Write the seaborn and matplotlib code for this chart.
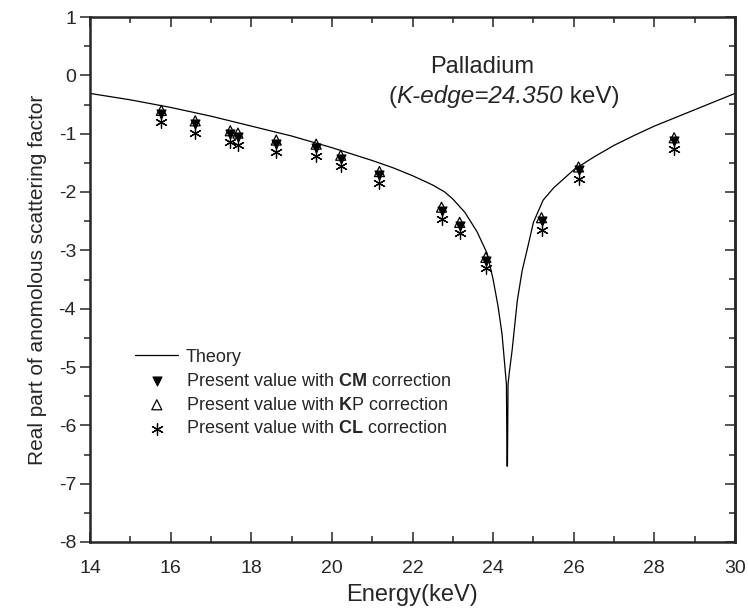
import numpy as np
import pandas as pd
import matplotlib
matplotlib.use("Agg")
import matplotlib.pyplot as plt
import seaborn as sns
from matplotlib.ticker import MultipleLocator

# ---------------- data ----------------
theory_energy = [14.0, 15.0, 16.0, 17.0, 18.0, 19.0, 20.0, 21.0, 21.5, 22.0,
                 22.5, 22.8, 23.0, 23.3, 23.6, 23.85, 24.0, 24.12, 24.22, 24.28,
                 24.33, 24.345, 24.355, 24.37, 24.40, 24.47, 24.6, 24.72, 24.84,
                 25.0, 25.24, 25.5, 26.0, 26.5, 27.0, 27.5, 28.0, 28.5, 29.0,
                 29.5, 30.0]
theory_value = [-0.31, -0.42, -0.55, -0.70, -0.87, -1.04, -1.24, -1.46, -1.58, -1.72,
                -1.88, -2.00, -2.12, -2.35, -2.68, -3.05, -3.50, -3.95, -4.43, -4.90,
                -5.30, -6.70, -6.70, -5.30, -5.10, -4.72, -3.86, -3.35, -3.00,
                -2.52, -2.14, -1.93, -1.62, -1.40, -1.20, -1.03, -0.87, -0.73, -0.59,
                -0.45, -0.31]

energy = [15.77, 16.61, 17.48, 17.67, 18.62, 19.61, 20.22, 21.18,
          22.72, 23.17, 23.82, 25.20, 26.12, 28.49]
kp_value = [-0.60, -0.78, -0.95, -0.99, -1.11, -1.18, -1.37, -1.65,
            -2.26, -2.52, -3.12, -2.44, -1.57, -1.07]
cm_value = [-0.66, -0.84, -1.01, -1.05, -1.17, -1.24, -1.43, -1.71,
            -2.32, -2.58, -3.18, -2.50, -1.63, -1.13]
cl_value = [-0.80, -0.98, -1.15, -1.19, -1.31, -1.39, -1.56, -1.84,
            -2.46, -2.70, -3.31, -2.65, -1.77, -1.27]

x_ticks = [14, 16, 18, 20, 22, 24, 26, 28, 30]
y_ticks = [1, 0, -1, -2, -3, -4, -5, -6, -7, -8]

# ---------------- style ----------------
sns.set_style("ticks")
plt.rcParams["font.family"] = ["Liberation Sans", "DejaVu Sans"]
plt.rcParams["mathtext.fontset"] = "custom"
plt.rcParams["mathtext.rm"] = "Liberation Sans"
plt.rcParams["mathtext.it"] = "Liberation Sans:italic"
plt.rcParams["mathtext.bf"] = "Liberation Sans:bold"
plt.rcParams["axes.unicode_minus"] = False

fig = plt.figure(figsize=(7.48, 6.12), dpi=100)
ax = fig.add_axes([90 / 748, 1 - 542 / 612, 645 / 748, 525 / 612])

theory_df = pd.DataFrame({"E": theory_energy, "f": theory_value})
pts = pd.DataFrame({"E": energy, "kp": kp_value, "cm": cm_value, "cl": cl_value})

sns.lineplot(data=theory_df, x="E", y="f", color="black", linewidth=0.9,
             estimator=None, label="Theory", ax=ax)

sns.scatterplot(data=pts, x="E", y="cm", marker="v", s=42, color="black",
                edgecolor="black", linewidth=0.8, zorder=3,
                label=r"Present value with $\mathbf{CM}$ correction", ax=ax)
sns.scatterplot(data=pts, x="E", y="kp", marker="^", s=52, color="black",
                edgecolor="black", linewidth=0.9, zorder=4,
                label=r"Present value with $\mathbf{K}$P correction", ax=ax)
ax.collections[-1].set_facecolor("none")
sns.scatterplot(data=pts, x="E", y="cl", marker=(6, 2, 0), s=70, color="black",
                edgecolor="black", linewidth=0.9, zorder=3,
                label=r"Present value with $\mathbf{CL}$ correction", ax=ax)

ax.set_xlim(14, 30)
ax.set_ylim(-8, 1)
ax.set_xticks(x_ticks)
ax.set_yticks(y_ticks)
ax.xaxis.set_minor_locator(MultipleLocator(1))
ax.yaxis.set_minor_locator(MultipleLocator(0.5))

for s in ax.spines.values():
    s.set_linewidth(1.8)
    s.set_visible(True)

ax.tick_params(axis="x", which="both", direction="in", top=True, bottom=True,
               labelsize=14, width=1.1, pad=13)
ax.tick_params(axis="x", which="major", length=7)
ax.tick_params(axis="x", which="minor", length=4)
ax.tick_params(axis="y", which="both", direction="out", left=True, right=False,
               labelsize=14, width=1.1, pad=3)
ax.tick_params(axis="y", which="major", length=7)
ax.tick_params(axis="y", which="minor", length=4)
# right axis ticks pointing inward
ax2 = ax.secondary_yaxis("right")
ax2.set_yticks(y_ticks)
ax2.yaxis.set_minor_locator(MultipleLocator(0.5))
ax2.tick_params(axis="y", which="both", direction="in", labelright=False, width=1.1)
ax2.tick_params(axis="y", which="major", length=7)
ax2.tick_params(axis="y", which="minor", length=4)
ax2.spines["right"].set_linewidth(1.8)

ax.set_xlabel("Energy(keV)", fontsize=17, labelpad=5)
ax.set_ylabel("Real part of anomolous scattering factor", fontsize=15, labelpad=8)

ax.text(23.73, 0.15, "Palladium", fontsize=17, ha="center", va="center")
t1 = ax.text(21.4, -0.38, "(", fontsize=17.5, ha="left", va="center")
t2 = ax.annotate("K-edge=24.350", xy=(1, 0), xycoords=t1, va="bottom", ha="left",
                 fontsize=17.5, style="italic")
ax.annotate(" keV)", xy=(1, 0), xycoords=t2, va="bottom", ha="left", fontsize=17.5)

ax.legend(loc="upper left", bbox_to_anchor=(0.07, 0.368), frameon=False,
          fontsize=13, handlelength=2.4, handletextpad=0.4, labelspacing=0.38,
          borderpad=0, borderaxespad=0)

fig.savefig("out.png", dpi=100)
